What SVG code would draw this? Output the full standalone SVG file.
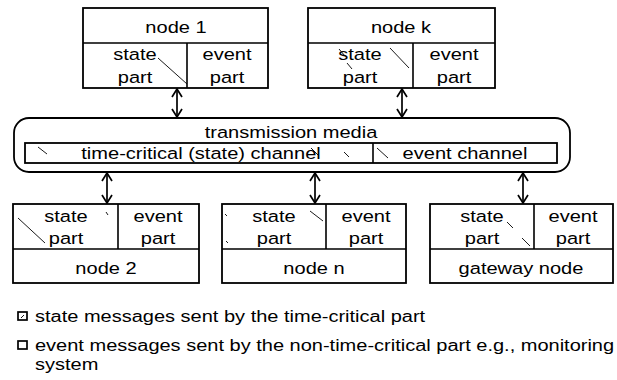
<svg xmlns="http://www.w3.org/2000/svg" width="617" height="380" viewBox="0 0 617 380">
  <style>
    .box { fill: #fff; stroke: #000; stroke-width: 1.8; }
    .div { stroke: #000; stroke-width: 1.6; fill: none; }
    .hatch { stroke: #000; stroke-width: 0.9; fill: none; }
    .lbl { font-family: "Liberation Sans", Arial, sans-serif; font-size: 17px; fill: #000; text-anchor: middle; }
    .leg { font-family: "Liberation Sans", Arial, sans-serif; font-size: 16px; fill: #000; }
    .wire { stroke: #000; stroke-width: 1.7; fill: none; marker-start: url(#head); marker-end: url(#head); }
  </style>
  <defs>
    <marker id="head" viewBox="0 0 10 12" refX="9" refY="6" markerWidth="10" markerHeight="12" markerUnits="userSpaceOnUse" orient="auto-start-reverse">
      <path d="M1,1 L9,6 L1,11" fill="none" stroke="#000" stroke-width="1.7"/>
    </marker>
  </defs>

  <!-- top nodes -->
  <g id="node1">
    <rect class="box" x="83" y="8" width="185" height="80"/>
    <path class="div" d="M83,43 H268 M187,43 V88"/>
    <path class="hatch" d="M158,58 L187,84"/>
    <text class="lbl" transform="translate(176 33) scale(1.18 1)">node 1</text>
    <text class="lbl" transform="translate(135 60) scale(1.18 1)">state</text>
    <text class="lbl" transform="translate(135 83) scale(1.18 1)">part</text>
    <text class="lbl" transform="translate(227 60) scale(1.18 1)">event</text>
    <text class="lbl" transform="translate(227 83) scale(1.18 1)">part</text>
  </g>
  <g id="nodek">
    <rect class="box" x="308" y="8" width="187" height="80"/>
    <path class="div" d="M308,43 H495 M413,43 V88"/>
    <path class="hatch" d="M339,49 L345,56 M347,63 L352,69 M390,48 L409,68"/>
    <text class="lbl" transform="translate(401 33) scale(1.18 1)">node k</text>
    <text class="lbl" transform="translate(360 60) scale(1.18 1)">state</text>
    <text class="lbl" transform="translate(360 83) scale(1.18 1)">part</text>
    <text class="lbl" transform="translate(454 60) scale(1.18 1)">event</text>
    <text class="lbl" transform="translate(454 83) scale(1.18 1)">part</text>
  </g>

  <!-- shared medium -->
  <g id="media">
    <rect class="box" x="14" y="118" width="556" height="54" rx="15" ry="15"/>
    <rect class="box" x="25" y="143" width="532" height="20"/>
    <path class="div" d="M373,143 V163"/>
    <path class="hatch" d="M38,147 L47,154 M311,148 L319,156 M344,152 L349,157 M377,148 L388,158"/>
    <text class="lbl" transform="translate(291 138) scale(1.18 1)">transmission media</text>
    <text class="lbl" transform="translate(201 159) scale(1.18 1)">time-critical (state) channel</text>
    <text class="lbl" transform="translate(465 159) scale(1.18 1)">event channel</text>
  </g>

  <!-- bottom nodes -->
  <g id="node2">
    <rect class="box" x="13" y="204" width="186" height="79"/>
    <path class="div" d="M13,249 H199 M118,204 V249"/>
    <path class="hatch" d="M18,218 L45,243 M106,212 L108,215"/>
    <text class="lbl" transform="translate(66 222) scale(1.18 1)">state</text>
    <text class="lbl" transform="translate(66 244) scale(1.18 1)">part</text>
    <text class="lbl" transform="translate(158 222) scale(1.18 1)">event</text>
    <text class="lbl" transform="translate(158 244) scale(1.18 1)">part</text>
    <text class="lbl" transform="translate(106 274) scale(1.18 1)">node 2</text>
  </g>
  <g id="noden">
    <rect class="box" x="222" y="204" width="184" height="79"/>
    <path class="div" d="M222,249 H406 M326,204 V249"/>
    <path class="hatch" d="M310,211 L323,221 M225,214 L227,216 M226,241 L228,243"/>
    <text class="lbl" transform="translate(274 222) scale(1.18 1)">state</text>
    <text class="lbl" transform="translate(274 244) scale(1.18 1)">part</text>
    <text class="lbl" transform="translate(366 222) scale(1.18 1)">event</text>
    <text class="lbl" transform="translate(366 244) scale(1.18 1)">part</text>
    <text class="lbl" transform="translate(314 274) scale(1.18 1)">node n</text>
  </g>
  <g id="gateway">
    <rect class="box" x="430" y="204" width="183" height="79"/>
    <path class="div" d="M430,249 H613 M534,204 V249"/>
    <path class="hatch" d="M507,222 L513,228 M522,238 L530,246"/>
    <text class="lbl" transform="translate(482 222) scale(1.18 1)">state</text>
    <text class="lbl" transform="translate(482 244) scale(1.18 1)">part</text>
    <text class="lbl" transform="translate(573 222) scale(1.18 1)">event</text>
    <text class="lbl" transform="translate(573 244) scale(1.18 1)">part</text>
    <text class="lbl" transform="translate(521 274) scale(1.18 1)">gateway node</text>
  </g>

  <!-- bidirectional links between nodes and the medium -->
  <g id="connectors">
    <line class="wire" x1="177" y1="89" x2="177" y2="117"/>
    <line class="wire" x1="402" y1="89" x2="402" y2="117"/>
    <line class="wire" x1="107" y1="173" x2="107" y2="203"/>
    <line class="wire" x1="315" y1="173" x2="315" y2="203"/>
    <line class="wire" x1="523" y1="173" x2="523" y2="203"/>
  </g>

  <!-- legend -->
  <g id="legend">
    <rect x="18" y="312" width="9" height="8" fill="#fff" stroke="#000" stroke-width="1.7"/>
    <path class="hatch" d="M21,318 L24,315"/>
    <text class="leg" transform="translate(35 322) scale(1.25 1)">state messages sent by the time-critical part</text>
    <rect x="18" y="341" width="9" height="8" fill="#fff" stroke="#000" stroke-width="1.7"/>
    <text class="leg" transform="translate(35 351) scale(1.25 1)">event messages sent by the non-time-critical part e.g., monitoring</text>
    <text class="leg" transform="translate(35 370) scale(1.25 1)">system</text>
  </g>
</svg>
